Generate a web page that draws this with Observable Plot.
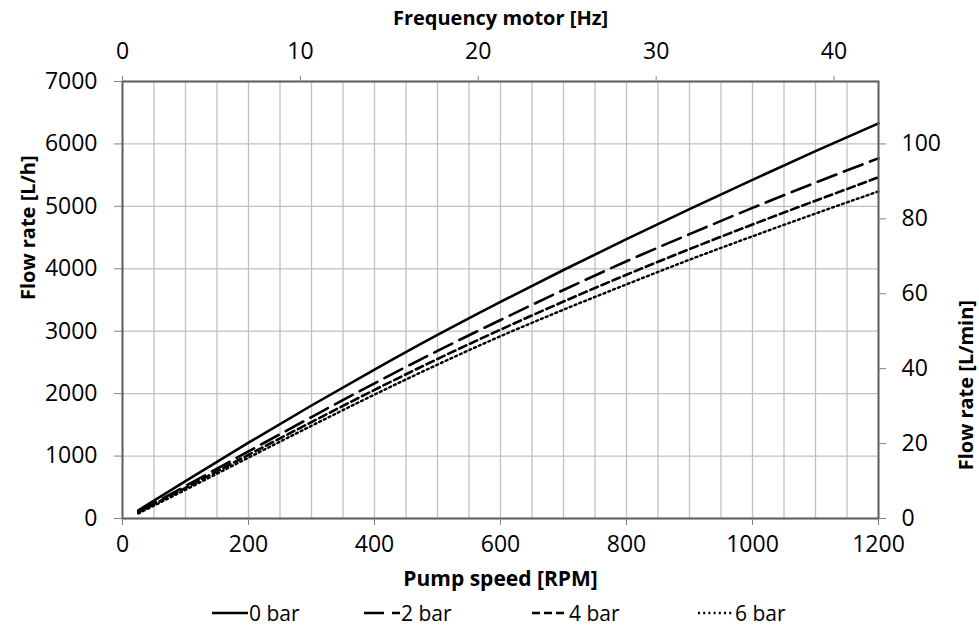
<!DOCTYPE html>
<html>
<head>
<meta charset="utf-8">
<script src="https://cdn.jsdelivr.net/npm/d3@7"></script>
<script src="https://cdn.jsdelivr.net/npm/@observablehq/plot@0.6"></script>
<style>
  html, body { margin: 0; padding: 0; background: #fff; }
  #wrap { position: relative; width: 979px; height: 634px; font-family: "Open Sans", Lato, sans-serif; }
  #legend { position: absolute; left: 0; width: 979px; top: 598px; height: 30px; font-size: 21px; color: #000; }
  .item { position: absolute; top: 0; display: flex; align-items: center; height: 30px; }
  .item svg { margin-right: 1px; }
</style>
</head>
<body>
<div id="wrap"><div id="chart"></div><div id="legend"></div></div>
<script>
// ---- data ----
const rpm   = [25, 100, 200, 300, 400, 500, 600, 700, 800, 900, 1000, 1100, 1200];
const flow0 = [130, 600, 1215, 1810, 2385, 2940, 3470, 3980, 4475, 4955, 5425, 5885, 6330];
const flow2 = [110, 520, 1075, 1625, 2165, 2685, 3180, 3660, 4120, 4555, 4975, 5380, 5770];
const flow4 = [100, 490, 1020, 1545, 2060, 2555, 3025, 3475, 3905, 4315, 4710, 5090, 5465];
const flow6 = [80, 460, 975, 1485, 1985, 2465, 2920, 3345, 3750, 4145, 4520, 4885, 5240];
const seriesNames = ["0 bar", "2 bar", "4 bar", "6 bar"];
const rpmTicks = [0, 200, 400, 600, 800, 1000, 1200];
const flowTicks = [0, 1000, 2000, 3000, 4000, 5000, 6000, 7000];
const hzTicks = [0, 10, 20, 30, 40];
const lminTicks = [0, 20, 40, 60, 80, 100];
const hzAtMaxRpm = 42.5;
const rpmMax = 1200, flowMax = 7000;
const gridStepRpm = 50;

// ---- styles ----
const dashes = ["none", "20,8", "8,4", "2,3.2"];
const widths = [2.6, 2.6, 2.6, 2.4];
const legendLeft = [212, 364, 532, 698];

const series = [flow0, flow2, flow4, flow6].map((vals, i) =>
  rpm.map((r, j) => ({rpm: r, flow: vals[j], series: seriesNames[i]})));

const fmt = d => String(Math.round(d));

const chart = Plot.plot({
  width: 979,
  height: 598,
  marginTop: 81,
  marginLeft: 122,
  marginRight: 101,
  marginBottom: 80,
  style: {fontFamily: '"Open Sans", Lato, sans-serif', fontSize: "23px", color: "#000", background: "#fff"},
  x: {domain: [0, rpmMax]},
  y: {domain: [0, flowMax]},
  marks: [
    Plot.gridX({ticks: d3.range(0, rpmMax + 1, gridStepRpm), stroke: "#c0c0c0", strokeOpacity: 1, strokeWidth: 1.3}),
    Plot.gridY({ticks: flowTicks, stroke: "#c0c0c0", strokeOpacity: 1, strokeWidth: 1.3}),
    ...series.map((d, i) => Plot.line(d, {x: "rpm", y: "flow", curve: "monotone-x", stroke: "#000", strokeWidth: widths[i], strokeDasharray: dashes[i]})),
    Plot.frame({stroke: "#5f5f5f", strokeWidth: 2}),
    Plot.axisX({anchor: "bottom", ticks: rpmTicks, tickFormat: fmt, tickSize: 7, tickPadding: 10, stroke: "#808080", fill: "#000", label: null}),
    Plot.axisX({anchor: "top", ticks: hzTicks.map(h => h * rpmMax / hzAtMaxRpm), tickFormat: d => fmt(d * hzAtMaxRpm / rpmMax), tickSize: 6, tickPadding: 17, stroke: "#808080", fill: "#000", label: null}),
    Plot.axisY({anchor: "left", ticks: flowTicks, tickFormat: fmt, tickSize: 8, tickPadding: 17, stroke: "#808080", fill: "#000", label: null}),
    Plot.axisY({anchor: "right", ticks: lminTicks.map(v => v * 60), tickFormat: d => fmt(d / 60), tickSize: 7, tickPadding: 16, stroke: "#808080", fill: "#000", label: null}),
    Plot.text(["Pump speed [RPM]"], {frameAnchor: "bottom", lineAnchor: "middle", dy: 61, fontWeight: "bold", fontSize: 21, fill: "#000"}),
    Plot.text(["Frequency motor [Hz]"], {frameAnchor: "top", lineAnchor: "middle", dy: -63, fontWeight: "bold", fontSize: 20, fill: "#000"}),
    Plot.text(["Flow rate [L/h]"], {frameAnchor: "left", dx: -94, rotate: -90, fontWeight: "bold", fontSize: 20, fill: "#000"}),
    Plot.text(["Flow rate [L/min]"], {frameAnchor: "right", dx: 88, rotate: -90, fontWeight: "bold", fontSize: 20, fill: "#000"})
  ]
});
document.getElementById("chart").appendChild(chart);

// legend
const legend = document.getElementById("legend");
seriesNames.forEach((name, i) => {
  const item = document.createElement("div");
  item.className = "item";
  item.style.left = legendLeft[i] + "px";
  item.innerHTML = `<svg width="36" height="10"><line x1="0" y1="5" x2="36" y2="5" stroke="#000" stroke-width="${widths[i]}" stroke-dasharray="${dashes[i]}"/></svg><span>${name}</span>`;
  legend.appendChild(item);
});
</script>
</body>
</html>
